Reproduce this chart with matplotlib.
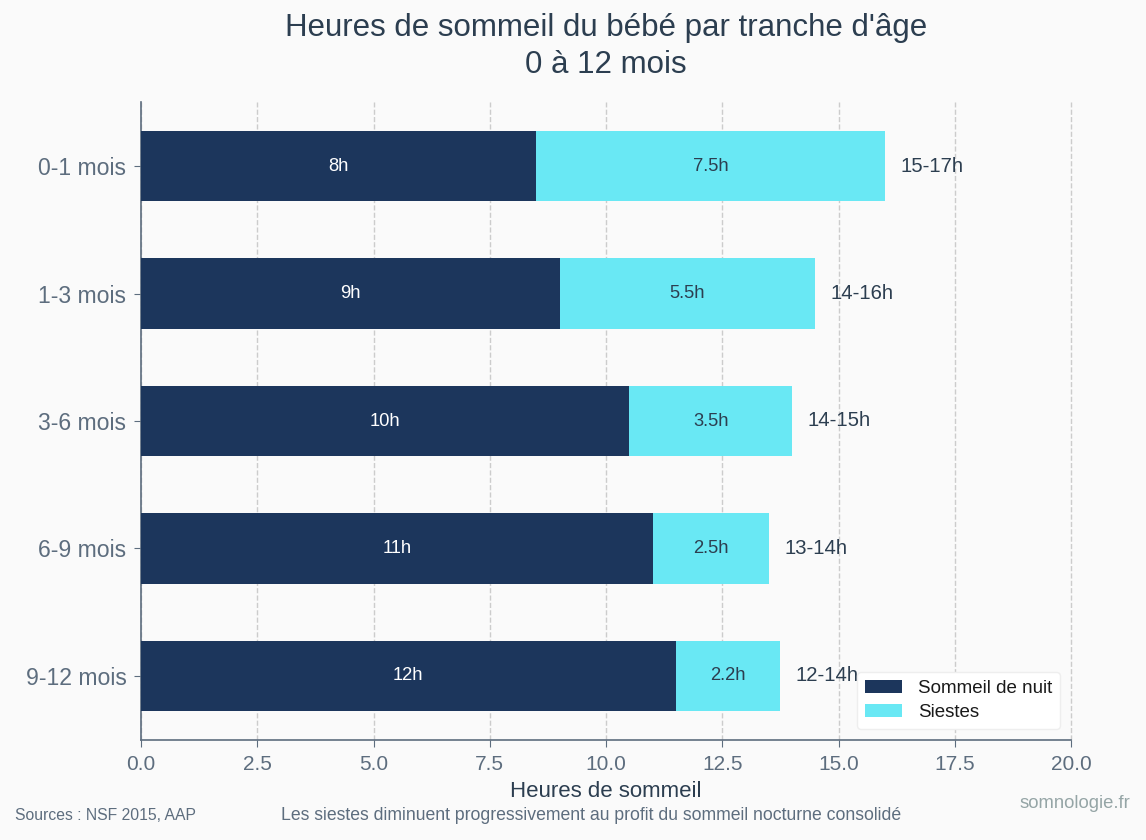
import matplotlib
matplotlib.use("Agg")
import matplotlib.pyplot as plt
import numpy as np

categories = ["0-1 mois", "1-3 mois", "3-6 mois", "6-9 mois", "9-12 mois"]
night = [8.5, 9.0, 10.5, 11.0, 11.5]
naps = [7.5, 5.5, 3.5, 2.5, 2.25]
night_labels = ["8h", "9h", "10h", "11h", "12h"]
nap_labels = ["7.5h", "5.5h", "3.5h", "2.5h", "2.2h"]
total_labels = ["15-17h", "14-16h", "14-15h", "13-14h", "12-14h"]

plt.rcParams['font.family'] = ['Liberation Sans', 'DejaVu Sans']

C_NIGHT = "#1C365C"
C_NAP = "#69E8F4"
C_TEXT = "#2C3E50"
C_TICK = "#5D6D7E"
BG = "#FAFAFA"

fig = plt.figure(figsize=(11.46, 8.4), dpi=100, facecolor=BG)
ax = fig.add_axes([141/1146, 1-740/840, (1071-141)/1146, (740-102)/840])
ax.set_facecolor(BG)

y = np.arange(len(categories))
h = 0.55
ax.barh(y, night, height=h, color=C_NIGHT, label="Sommeil de nuit", zorder=3)
ax.barh(y, naps, left=night, height=h, color=C_NAP, label="Siestes", zorder=3)

for i in range(len(categories)):
    ax.text(night[i]/2, y[i], night_labels[i], ha='center', va='center', color='white', fontsize=13.2, zorder=4)
    ax.text(night[i] + naps[i]/2, y[i], nap_labels[i], ha='center', va='center', color=C_TEXT, fontsize=13.2, zorder=4)
    ax.text(night[i] + naps[i] + 0.33, y[i], total_labels[i], ha='left', va='center', color=C_TEXT, fontsize=14.6, zorder=4)

ax.set_yticks(y)
ax.set_yticklabels(categories)
ax.invert_yaxis()
ax.set_xlim(0, 20)
ax.set_xticks(np.arange(0, 20.1, 2.5))
ax.tick_params(axis='y', colors=C_TICK, labelsize=16.6, length=5, pad=5.5)
ax.tick_params(axis='x', colors=C_TICK, labelsize=15, length=5, pad=6)
for lab in ax.get_xticklabels() + ax.get_yticklabels():
    lab.set_color(C_TICK)

ax.grid(axis='x', linestyle='--', color='#CCCCCC', linewidth=1, zorder=0)
for gl in ax.get_xgridlines():
    gl.set_clip_on(False)
for s in ['top', 'right']:
    ax.spines[s].set_visible(False)
for s in ['left', 'bottom']:
    ax.spines[s].set_color(C_TICK)
    ax.spines[s].set_linewidth(1.2)

ax.set_xlabel("Heures de sommeil", fontsize=16, color=C_TEXT, labelpad=5)

fig.text(606/1146, 1-46.5/840, "Heures de sommeil du bébé par tranche d'âge\n0 à 12 mois",
         ha='center', va='center', fontsize=22.5, color=C_TEXT, linespacing=1.32)

leg = ax.legend(loc='lower right', fontsize=13.5, frameon=True, framealpha=1,
                edgecolor='#EEEEEE', facecolor='white', borderpad=0.4,
                labelspacing=0.4, handlelength=2.0, handleheight=0.7,
                handletextpad=0.85, borderaxespad=0.6)
for t in leg.get_texts():
    t.set_color('#1a1a1a')

fig.text(15/1146, 1-816/840, "Sources : NSF 2015, AAP", ha='left', va='center', fontsize=11.3, color=C_TICK)
fig.text(591/1146, 1-816/840, "Les siestes diminuent progressivement au profit du sommeil nocturne consolidé",
         ha='center', va='center', fontsize=12.7, color=C_TICK)
fig.text(1130/1146, 1-803/840, "somnologie.fr", ha='right', va='center', fontsize=13.3, color='#95A5A6')

fig.savefig("out.png", dpi=100, facecolor=BG)
